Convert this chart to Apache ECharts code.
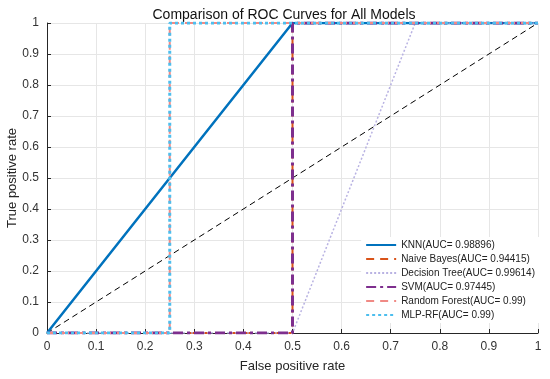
<!DOCTYPE html>
<html><head><meta charset="utf-8">
<script src="https://cdn.jsdelivr.net/npm/echarts@6/dist/echarts.min.js"></script>
<style>html,body{margin:0;padding:0;background:#fff}#c{width:550px;height:379px}</style>
</head><body><div id="c"></div>
<script>
const title = 'Comparison of ROC Curves for All Models';
const xTicks = [0,0.1,0.2,0.3,0.4,0.5,0.6,0.7,0.8,0.9,1];
const seriesNames = ['KNN(AUC= 0.98896)','Naive Bayes(AUC= 0.94415)','Decision Tree(AUC= 0.99614)','SVM(AUC= 0.97445)','Random Forest(AUC= 0.99)','MLP-RF(AUC= 0.99)'];
const knnFpr = [0,0.5,1];
const knnTpr = [0,1,1];
const nbFpr = [0,0.5,0.5,1];
const nbTpr = [0,0,1,1];
const dtFpr = [0,0.5,0.75,1];
const dtTpr = [0,0,1,1];
const svmFpr = [0,0.5,0.5,1];
const svmTpr = [0,0,1,1];
const rfFpr = [0,0.25,0.25,1];
const rfTpr = [0,0,1,1];
const mlpFpr = [0,0.25,0.25,1];
const mlpTpr = [0,0,1,1];
const chanceFpr = [0,1];
const chanceTpr = [0,1];

const zip = (a,b)=>a.map((v,i)=>[v,b[i]]);
const styles = [
  {color:'#0072BD', width:2.5, type:'solid'},
  {color:'#D95319', width:2, type:[8,6]},
  {color:'#B8B2E2', width:1.5, type:[2,2]},
  {color:'#7E2F8E', width:3, type:[10,4,3,4]},
  {color:'#F08A85', width:2, type:[8,6]},
  {color:'#4DBEEE', width:3, type:[3,3]}
];
const dataSets = [zip(knnFpr,knnTpr),zip(nbFpr,nbTpr),zip(dtFpr,dtTpr),zip(svmFpr,svmTpr),zip(rfFpr,rfTpr),zip(mlpFpr,mlpTpr)];
const series = [{
  name:'chance', type:'line', data:zip(chanceFpr,chanceTpr), symbol:'none',
  lineStyle:{color:'#000', width:1, type:[6,4]}, z:1, silent:true
}];
seriesNames.forEach((n,i)=>{
  series.push({name:n, type:'line', data:dataSets[i], symbol:'none',
    lineStyle:styles[i], itemStyle:{color:styles[i].color}, z:2+i});
});
const chart = echarts.init(document.getElementById('c'));
const axisCommon = {
  min:0, max:1, interval:0.1,
  nameMoveOverlap:false,
  axisLine:{show:true, lineStyle:{color:'#262626', width:1}},
  axisTick:{show:true, inside:true, length:4, lineStyle:{color:'#262626'}},
  splitLine:{show:true, lineStyle:{color:'#e6e6e6', width:1}},
  axisLabel:{color:'#333', fontSize:12, fontFamily:'Liberation Sans, Arial', formatter:v=>String(Math.round(v*10)/10)},
  nameTextStyle:{color:'#262626', fontSize:13, fontFamily:'Liberation Sans, Arial'}
};
chart.setOption({
  animation:false,
  title:{text:title, left:279, top:3, textAlign:'center', textStyle:{fontSize:14, fontWeight:'normal', color:'#111', fontFamily:'Liberation Sans, Arial'}},
  grid:{left:47, right:12, top:23, bottom:46, outerBoundsMode:'none', containLabel:false},
  xAxis:Object.assign({type:'value', name:'False positive rate', nameLocation:'middle', nameGap:27}, axisCommon, {axisLabel:Object.assign({}, axisCommon.axisLabel, {margin:8})}),
  yAxis:Object.assign({type:'value', name:'True positive rate', nameLocation:'middle', nameGap:28}, axisCommon),
  legend:{
    data:seriesNames, orient:'vertical', right:11, bottom:56,
    itemWidth:30, itemHeight:8, itemGap:4,
    itemStyle:{opacity:0},
    backgroundColor:'#fff', padding:[3,4,3,4],
    textStyle:{fontSize:10, color:'#222', fontFamily:'Liberation Sans, Arial'}
  },
  series:series
});
</script></body></html>
